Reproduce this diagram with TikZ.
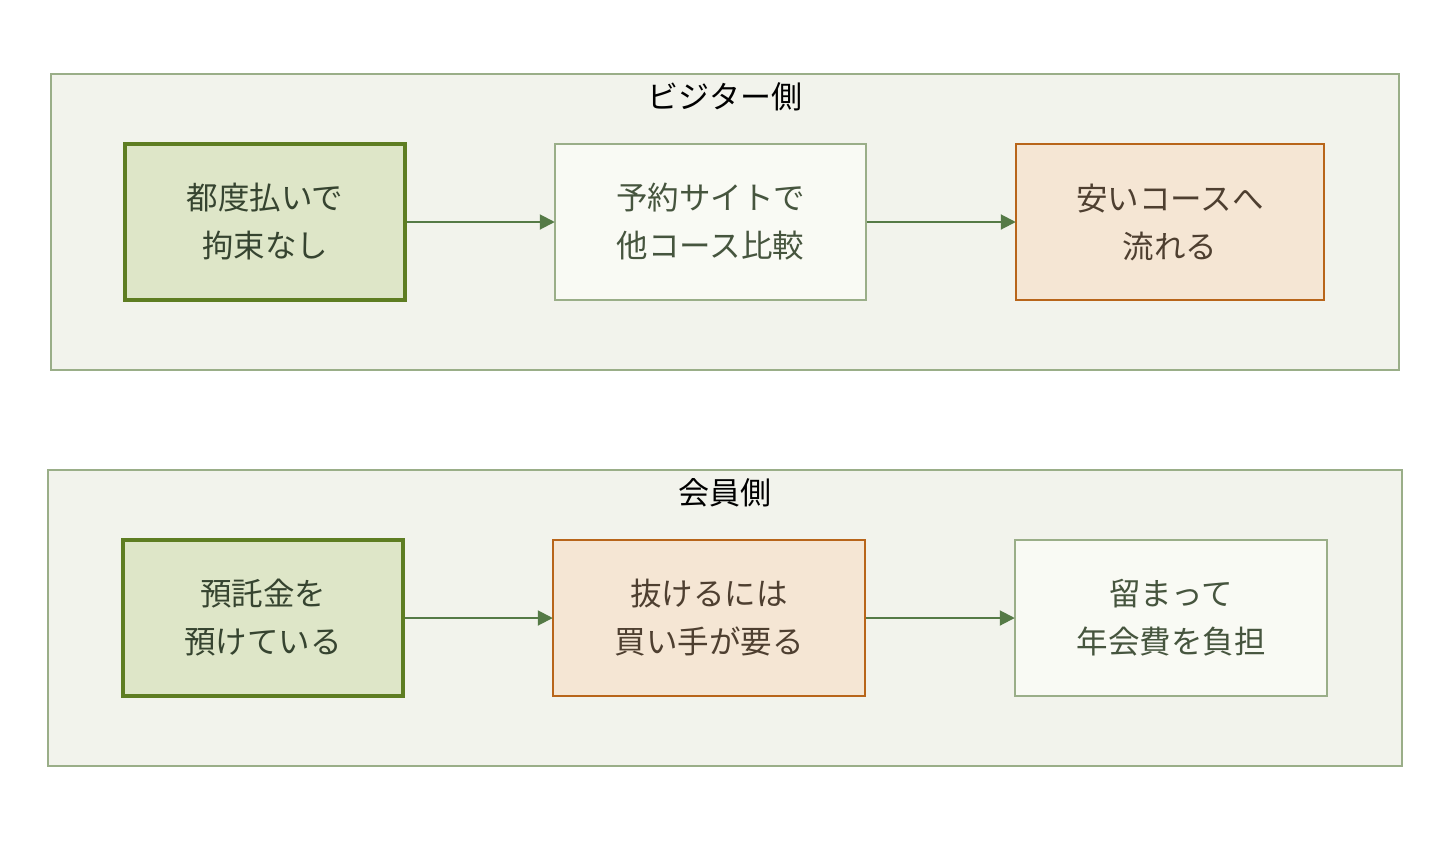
\documentclass[tikz,border=0pt]{standalone}
\usepackage{fontspec}
\setmainfont{Noto Sans CJK JP}
\usetikzlibrary{arrows.meta}
\definecolor{panelfill}{HTML}{F2F3EC}
\definecolor{panelline}{HTML}{9AAE88}
\definecolor{greenfill}{HTML}{DEE6C8}
\definecolor{greenline}{HTML}{5E7D22}
\definecolor{lightfill}{HTML}{F9FAF4}
\definecolor{lightline}{HTML}{9AAE88}
\definecolor{orangefill}{HTML}{F5E6D4}
\definecolor{orangeline}{HTML}{B8651A}
\definecolor{arrowcol}{HTML}{557A46}
\definecolor{greentext}{HTML}{364430}
\definecolor{lighttext}{HTML}{46553E}
\definecolor{orangetext}{HTML}{4E3F30}
\tikzset{
  panel/.style={draw=panelline, fill=panelfill, line width=1.5pt},
  boxbase/.style={rectangle, minimum height=156pt, align=center, inner sep=0pt,
     font=\fontsize{31.5}{48}\selectfont},
  greenbox/.style={boxbase, draw=greenline, fill=greenfill, line width=3.5pt, text=greentext},
  lightbox/.style={boxbase, draw=lightline, fill=lightfill, line width=1.5pt, text=lighttext},
  orangebox/.style={boxbase, draw=orangeline, fill=orangefill, line width=1.5pt, text=orangetext},
  paneltitle/.style={font=\fontsize{31}{34}\selectfont, text=black, inner sep=0pt},
  arr/.style={draw=arrowcol, line width=2pt, -{Triangle[length=15pt,width=15pt]}, shorten >=-0.5pt}
}
\begin{document}
\begin{tikzpicture}[x=1pt,y=-1pt]
\useasboundingbox (0,0) rectangle (1450,844);
\fill[white] (0,0) rectangle (1450,844);
% panels
\draw[panel] (51,74) rectangle (1399,370);
\draw[panel] (48,470) rectangle (1402,766);
\node[paneltitle] (t1) at (725,97) {ビジター側};
\node[paneltitle] (t2) at (725,493) {会員側};
% top row
\node[greenbox, minimum width=280pt] (a1) at (265,222) {都度払いで\\拘束なし};
\node[lightbox, minimum width=311pt] (a2) at (710.5,222) {予約サイトで\\他コース比較};
\node[orangebox, minimum width=308pt] (a3) at (1170,222) {安いコースへ\\流れる};
% bottom row
\node[greenbox, minimum width=280pt] (b1) at (263,618) {預託金を\\預けている};
\node[orangebox, minimum width=312pt] (b2) at (709,618) {抜けるには\\買い手が要る};
\node[lightbox, minimum width=312pt] (b3) at (1171,618) {留まって\\年会費を負担};
% arrows
\draw[arr] (a1.east) -- (a2.west);
\draw[arr] (a2.east) -- (a3.west);
\draw[arr] (b1.east) -- (b2.west);
\draw[arr] (b2.east) -- (b3.west);
\end{tikzpicture}
\end{document}
